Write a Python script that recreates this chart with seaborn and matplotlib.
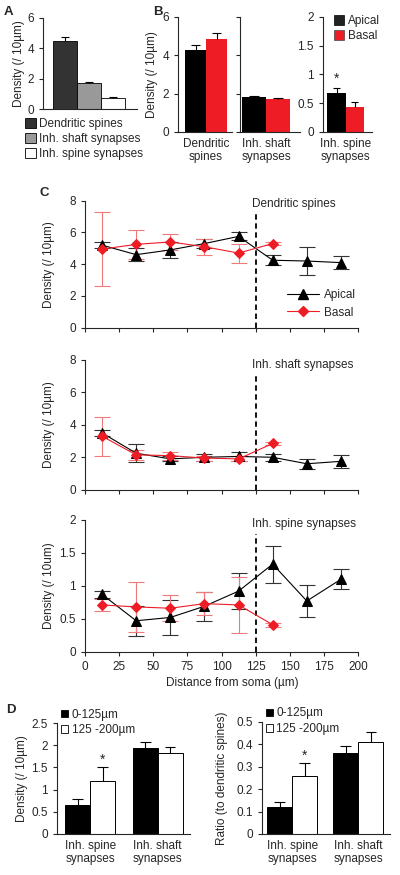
import numpy as np
import pandas as pd
import matplotlib
matplotlib.use('Agg')
import matplotlib.pyplot as plt
from matplotlib.patches import Patch
from matplotlib.lines import Line2D
from matplotlib.ticker import FuncFormatter
import seaborn as sns

# ---- data ----
a_labels = ['Dendritic spines', 'Inh. shaft synapses', 'Inh. spine synapses']
a_mean = [4.48, 1.69, 0.72]
a_err = [0.24, 0.1, 0.09]

b_groups = ['Dendritic\nspines', 'Inh. shaft\nsynapses', 'Inh. spine\nsynapses']
b_apical = [4.28, 1.81, 0.68]
b_apical_err = [0.26, 0.08, 0.09]
b_basal = [4.87, 1.74, 0.43]
b_basal_err = [0.28, 0.03, 0.09]

dist_apical = [12.5, 37.5, 62.5, 87.5, 112.5, 137.5, 162.5, 187.5]
dist_basal = [12.5, 37.5, 62.5, 87.5, 112.5, 137.5]

spine_apical = [5.2, 4.6, 4.9, 5.3, 5.75, 4.25, 4.2, 4.1]
spine_apical_err = [0.2, 0.4, 0.5, 0.3, 0.25, 0.3, 0.9, 0.4]
spine_basal = [4.95, 5.25, 5.4, 5.1, 4.7, 5.3]
spine_basal_err = [2.35, 0.9, 0.5, 0.5, 0.6, 0.1]

shaft_apical = [3.5, 2.25, 1.9, 2.0, 2.05, 2.0, 1.6, 1.75]
shaft_apical_err = [0.2, 0.55, 0.15, 0.2, 0.3, 0.2, 0.3, 0.4]
shaft_basal = [3.3, 2.15, 2.1, 1.95, 1.9, 2.85]
shaft_basal_err = [1.2, 0.3, 0.25, 0.15, 0.15, 0.1]

inh_apical = [0.87, 0.47, 0.52, 0.69, 0.92, 1.33, 0.77, 1.1]
inh_apical_err = [0.05, 0.23, 0.27, 0.22, 0.27, 0.28, 0.25, 0.15]
inh_basal = [0.71, 0.68, 0.66, 0.73, 0.71, 0.41]
inh_basal_err = [0.09, 0.38, 0.2, 0.17, 0.42, 0.03]

d_groups = ['Inh. spine\nsynapses', 'Inh. shaft\nsynapses']
d_bins = ['0-125µm', '125 -200µm']
d_dens_near = [0.65, 1.93]
d_dens_near_err = [0.13, 0.15]
d_dens_far = [1.2, 1.82]
d_dens_far_err = [0.3, 0.13]
d_ratio_near = [0.12, 0.36]
d_ratio_near_err = [0.025, 0.035]
d_ratio_far = [0.26, 0.41]
d_ratio_far_err = [0.055, 0.045]

RED = '#ee1c25'
FS = 8.5

sns.set_style('ticks')
plt.rcParams['font.family'] = ['Liberation Sans', 'DejaVu Sans']
plt.rcParams['font.size'] = FS
plt.rcParams['axes.linewidth'] = 0.8
plt.rcParams['xtick.major.width'] = 0.8
plt.rcParams['ytick.major.width'] = 0.8
plt.rcParams['xtick.major.size'] = 3
plt.rcParams['ytick.major.size'] = 3
plt.rcParams['xtick.labelsize'] = FS
plt.rcParams['ytick.labelsize'] = FS

fig = plt.figure(figsize=(4, 8.75), dpi=100)


def box(l, t, r, b):
    # pixel rectangle -> figure axes
    return fig.add_axes([l / 400, 1 - b / 875, (r - l) / 400, (b - t) / 875])


def up_err(ax, x, y, e, color='k', cap=0.08):
    for xi, yi, ei in zip(x, y, e):
        ax.vlines(xi, yi, yi + ei, color=color, lw=0.8, zorder=3)
        ax.hlines(yi + ei, xi - cap, xi + cap, color=color, lw=0.8, zorder=3)


def ylab(ax, text, xpx, l, r):
    ax.set_ylabel(text, fontsize=FS)
    ax.yaxis.set_label_coords((xpx - l) / (r - l), 0.5)


gfmt = FuncFormatter(lambda v, p: f'{v:g}')

# ---- panel A ----
axA = box(43, 18, 137, 109)
dfA = pd.DataFrame({'kind': a_labels, 'val': a_mean})
sns.barplot(data=dfA, x='kind', y='val', hue='kind', palette=['#333333', '#999999', '#ffffff'],
            width=1, edgecolor='k', linewidth=0.6, legend=False, ax=axA)
up_err(axA, [0, 1, 2], a_mean, a_err, cap=0.15)
axA.set_xlim(-0.92, 3.0)
axA.set_ylim(0, 6)
axA.set_yticks([0, 2, 4, 6])
axA.set_xticks([])
axA.set_xlabel('')
ylab(axA, 'Density (/ 10µm)', 25, 43, 137)
sns.despine(ax=axA)
handlesA = [Patch(facecolor=c, edgecolor='k', linewidth=0.6) for c in ['#333333', '#999999', '#ffffff']]
axA.legend(handlesA, a_labels, loc='upper left', bbox_to_anchor=(-0.19, -0.1), frameon=False,
           handlelength=0.9, handleheight=0.9, handletextpad=0.3, labelspacing=0.25, fontsize=FS,
           borderaxespad=0, borderpad=0)

# ---- panel B ----
b_boxes = [(178, 17, 232), (240, 17, 300), (323, 17, 372)]
b_xlims = [(-0.67, 0.62), (-0.54, 0.70), (-0.62, 0.72)]
for i, (l, t, r) in enumerate(b_boxes):
    ax = box(l, t, r, 132)
    dfB = pd.DataFrame({'grp': [b_groups[i]] * 2, 'side': ['Apical', 'Basal'],
                        'val': [b_apical[i], b_basal[i]]})
    sns.barplot(data=dfB, x='grp', y='val', hue='side', palette=['k', RED], width=1,
                edgecolor='none', saturation=1, legend=False, ax=ax)
    up_err(ax, [-0.25, 0.25], [b_apical[i], b_basal[i]], [b_apical_err[i], b_basal_err[i]], cap=0.1)
    ax.set_xlim(*b_xlims[i])
    ax.set_xlabel('')
    ax.set_ylabel('')
    ax.tick_params(axis='x', length=0, pad=4)
    if i < 2:
        ax.set_ylim(0, 6)
        ax.set_yticks([0, 2, 4, 6])
    else:
        ax.set_ylim(0, 2)
        ax.set_yticks([0, 0.5, 1, 1.5, 2])
        ax.yaxis.set_major_formatter(gfmt)
        ax.text(-0.25, 0.8, '*', ha='center', va='bottom', fontsize=10)
        hB = [Patch(facecolor='#222222', edgecolor='k', linewidth=0.5),
              Patch(facecolor=RED, edgecolor='#444444', linewidth=0.5)]
        ax.legend(hB, ['Apical', 'Basal'], loc='upper left', bbox_to_anchor=(0.22, 1.02),
                  frameon=False, handlelength=0.9, handleheight=0.9, handletextpad=0.3,
                  labelspacing=0.3, fontsize=FS, borderaxespad=0, borderpad=0)
    if i == 1:
        ax.set_yticklabels([])
    if i == 0:
        ylab(ax, 'Density (/ 10µm)', 158, l, r)
    sns.despine(ax=ax)

# ---- panel C ----
c_rows = [
    (200.7, 327.7, 8, [0, 2, 4, 6, 8], spine_apical, spine_apical_err, spine_basal, spine_basal_err,
     'Dendritic spines', 7.8, 7.3, 'Density (/ 10µm)'),
    (360, 489.7, 8, [0, 2, 4, 6, 8], shaft_apical, shaft_apical_err, shaft_basal, shaft_basal_err,
     'Inh. shaft synapses', 7.7, 7.1, 'Density (/ 10µm)'),
    (520, 651.7, 2, [0, 0.5, 1, 1.5, 2], inh_apical, inh_apical_err, inh_basal, inh_basal_err,
     'Inh. spine synapses', 1.94, 1.78, 'Density (/ 10um)'),
]
for k, (t, b, ymax, yt, ya, ea, yb, eb, title, ty, dtop, yl) in enumerate(c_rows):
    ax = box(85, t, 358, b)
    ax.errorbar(dist_apical, ya, yerr=ea, fmt='none', ecolor='#333333', elinewidth=0.8,
                capsize=5.5, capthick=0.8, zorder=2)
    ax.errorbar(dist_basal, yb, yerr=eb, fmt='none', ecolor='#f07a7a', elinewidth=0.8,
                capsize=5.5, capthick=0.8, zorder=2)
    sns.lineplot(x=dist_apical, y=ya, color='k', lw=0.8, marker='^', markersize=7.5,
                 markeredgecolor='k', ax=ax, zorder=3)
    sns.lineplot(x=dist_basal, y=yb, color=RED, lw=0.8, marker='D', markersize=5.5,
                 markeredgecolor=RED, ax=ax, zorder=4)
    ax.plot([125, 125], [0, dtop], color='k', ls=(0, (3, 2)), lw=1.3, zorder=1)
    ax.text(122, ty, title, ha='left', va='center', fontsize=FS)
    ax.set_xlim(0, 200)
    ax.set_ylim(0, ymax)
    ax.set_yticks(yt)
    ax.yaxis.set_major_formatter(gfmt)
    ax.set_xticks(np.arange(0, 201, 25))
    if k < 2:
        ax.set_xticklabels([])
    else:
        ax.set_xlabel('Distance from soma (µm)', fontsize=FS)
        ax.xaxis.set_label_coords(0.54, -0.19)
    ylab(ax, yl, 55, 85, 358)
    sns.despine(ax=ax)
    if k == 0:
        hC = [Line2D([], [], color='k', lw=0.8, marker='^', markersize=7.5),
              Line2D([], [], color=RED, lw=0.8, marker='D', markersize=5.5)]
        ax.legend(hC, ['Apical', 'Basal'], loc='center left', bbox_to_anchor=(0.74, 0.187),
                  frameon=False, handlelength=2.7, handletextpad=0.4, labelspacing=0.45,
                  fontsize=FS, borderaxespad=0, borderpad=0)

# ---- panel D ----
d_panels = [
    (57, 723, 190, 834, 2.5, [0, 0.5, 1, 1.5, 2, 2.5], d_dens_near, d_dens_near_err, d_dens_far,
     d_dens_far_err, 1.52, 'Density (/ 10µm)', 28, (-0.49, 1.48), 0.74),
    (262, 722, 390, 834, 0.5, [0, 0.1, 0.2, 0.3, 0.4, 0.5], d_ratio_near, d_ratio_near_err,
     d_ratio_far, d_ratio_far_err, 0.318, 'Ratio (to dendritic spines)', 228, (-0.455, 1.48), 0.76),
]
for (l, t, r, b, ymax, yt, near, ne, far, fe, star_y, yl, yx, xl, w) in d_panels:
    ax = box(l, t, r, b)
    dfD = pd.DataFrame({'grp': d_groups * 2, 'bin': [d_bins[0]] * 2 + [d_bins[1]] * 2,
                        'val': near + far})
    sns.barplot(data=dfD, x='grp', y='val', hue='bin', palette=['k', 'w'], width=w,
                edgecolor='k', linewidth=0.7, legend=False, ax=ax)
    off = w / 4
    up_err(ax, [0 - off, 1 - off], near, ne, cap=0.08)
    up_err(ax, [0 + off, 1 + off], far, fe, cap=0.08)
    ax.text(off, star_y, '*', ha='center', va='bottom', fontsize=10)
    ax.set_xlim(*xl)
    ax.set_ylim(0, ymax)
    ax.set_yticks(yt)
    ax.yaxis.set_major_formatter(gfmt)
    ax.tick_params(axis='x', length=0, pad=4)
    ax.set_xlabel('')
    ylab(ax, yl, yx, l, r)
    sns.despine(ax=ax)
    hD = [Patch(facecolor='k', edgecolor='k', linewidth=0.6),
          Patch(facecolor='w', edgecolor='k', linewidth=0.6)]
    ax.legend(hD, d_bins, loc='upper left', bbox_to_anchor=(0.03, 1.13), frameon=False,
              handlelength=0.6, handleheight=0.6, handletextpad=0.3, labelspacing=0.3,
              fontsize=FS, borderaxespad=0, borderpad=0)

# ---- panel letters ----
for letter, x, y in [('A', 4, 12), ('B', 153, 12), ('C', 40, 193), ('D', 6, 710)]:
    fig.text(x / 400, 1 - y / 875, letter, fontsize=9.5, fontweight='bold', ha='left', va='center')

fig.savefig('out.png', dpi=100)
